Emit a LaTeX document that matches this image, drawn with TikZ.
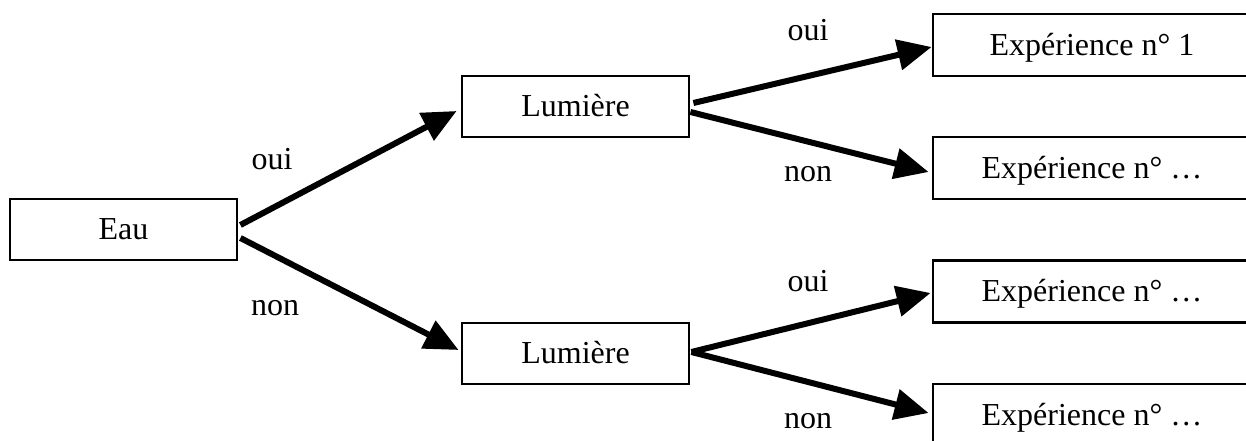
\documentclass[tikz,border=0pt]{standalone}
\usepackage{fontspec}
\setmainfont{Liberation Serif}
\usetikzlibrary{arrows.meta}
\tikzset{
  box/.style={draw, line width=2.8pt, minimum width=227pt, minimum height=61pt,
    inner sep=0pt, text height=21pt, text depth=0pt, font=\fontsize{32}{38}\selectfont},
  expbox/.style={box, minimum width=318pt, minimum height=62pt},
  arr/.style={line width=6pt, -{Triangle[length=34pt,width=30pt]}, shorten >=0pt},
  lbl/.style={anchor=base, inner sep=0pt, font=\fontsize{32}{38}\selectfont}
}
\begin{document}
\begin{tikzpicture}[x=1pt,y=1pt]
\clip (0,0) rectangle (1246,441);
\fill[white] (0,0) rectangle (1246,441);
\node[box] (eau) at (123.5,211.5) {Eau};
\node[box] (lum1) at (575.5,334.5) {Lumière};
\node[box] (lum2) at (575.5,87.5) {Lumière};
\node[expbox] (exp1) at (1092,396) {Expérience n° 1};
\node[expbox] (exp2) at (1092,273) {Expérience n° …};
\node[expbox] (exp3) at (1092,149.5) {Expérience n° …};
\node[expbox] (exp4) at (1092,26) {Expérience n° …};
\draw[arr] ([xshift=2pt,yshift=4.5pt]eau.east) -- ([xshift=-4pt,yshift=-4.5pt]lum1.west);
\draw[arr] ([xshift=2pt,yshift=-8.5pt]eau.east) -- ([xshift=-2pt,yshift=3.5pt]lum2.west);
\draw[arr] ([xshift=3pt,yshift=3.5pt]lum1.east) -- ([yshift=-2pt]exp1.west);
\draw[arr] ([xshift=0pt,yshift=-5.5pt]lum1.east) -- ([xshift=-3pt,yshift=-4pt]exp2.west);
\draw[arr] ([xshift=1pt,yshift=1.5pt]lum2.east) -- ([xshift=-1pt,yshift=-1.5pt]exp3.west);
\draw[arr] ([xshift=1pt,yshift=1.5pt]lum2.east) -- ([xshift=-3pt,yshift=2pt]exp4.west);
\node[lbl] (oui1) at (272,271) {oui};
\node[lbl] (non1) at (275,125) {non};
\node[lbl] (oui2) at (808,400) {oui};
\node[lbl] (non2) at (808,259) {non};
\node[lbl] (oui3) at (808,149) {oui};
\node[lbl] (non3) at (808,12) {non};
\end{tikzpicture}
\end{document}
